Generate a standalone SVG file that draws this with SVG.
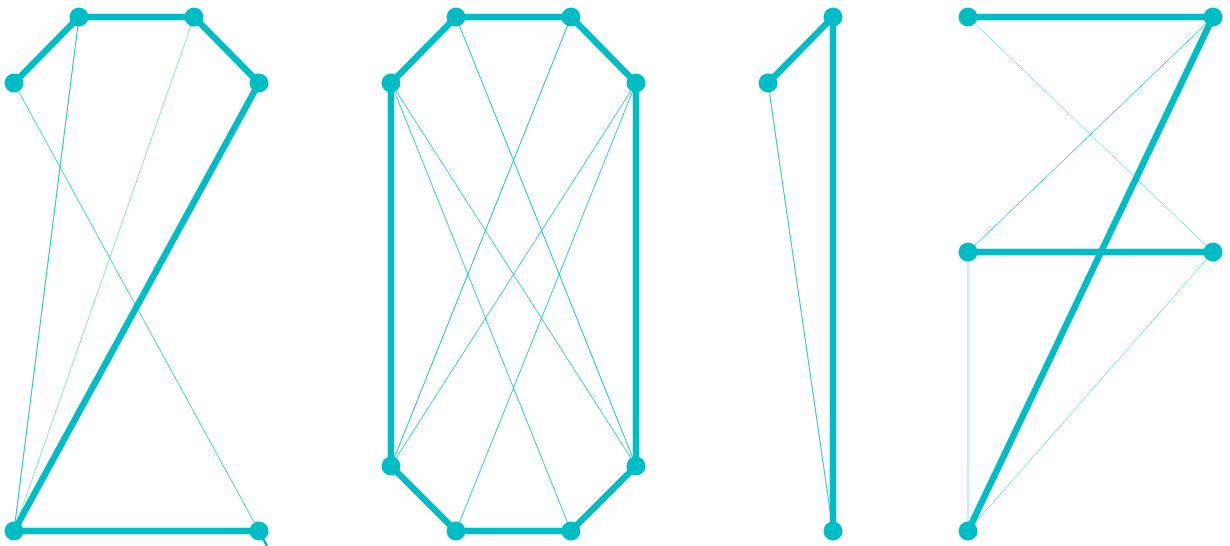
<svg xmlns="http://www.w3.org/2000/svg" width="1230" height="546" viewBox="0 0 1230 546">
<style>
.thick{stroke:#00bcc5;stroke-width:6.5;fill:none;stroke-linecap:round;stroke-linejoin:round}
.thin{stroke:#00bcc5;stroke-width:1;fill:none}
.n{fill:#00bcc5}
</style>
<rect width="1230" height="546" fill="#fff"/>
<g id="connectors">
<line class="thin" x1="79" y1="17" x2="14" y2="531" stroke-opacity="0.9"/>
<line class="thin" x1="194" y1="17" x2="14" y2="531" stroke-opacity="0.45"/>
<line class="thin" x1="14" y1="83" x2="259" y2="531" stroke-opacity="0.75"/>
<polyline class="thick" points="14,83 79,17 194,17 259,83 14,531 259,531"/>
<line x1="261" y1="535" x2="267" y2="546" stroke="#00bcc5" stroke-width="2.5"/>
<line class="thin" x1="456" y1="17" x2="636" y2="466" stroke-opacity="0.9"/>
<line class="thin" x1="571" y1="17" x2="391" y2="466" stroke-opacity="0.9"/>
<line class="thin" x1="391" y1="83" x2="571" y2="531" stroke-opacity="0.8"/>
<line class="thin" x1="391" y1="83" x2="636" y2="466" stroke-opacity="0.8"/>
<line class="thin" x1="636" y1="83" x2="456" y2="531" stroke-opacity="0.8"/>
<line class="thin" x1="636" y1="83" x2="391" y2="466" stroke-opacity="0.8"/>
<polygon class="thick" points="391,83 456,17 571,17 636,83 636,466 571,531 456,531 391,466"/>
<line class="thin" x1="768" y1="83" x2="833" y2="531" stroke-opacity="0.85"/>
<polyline class="thick" points="768,83 833,17 833,531"/>
<line class="thin" x1="968" y1="17" x2="1213" y2="252" stroke-opacity="0.5"/>
<line class="thin" x1="1213" y1="17" x2="968" y2="252" stroke-opacity="0.8"/>
<line class="thin" x1="968" y1="252" x2="968" y2="531" stroke-opacity="0.45"/>
<line class="thin" x1="1213" y1="252" x2="968" y2="531" stroke-opacity="0.5"/>
<polyline class="thick" points="968,17 1213,17 968,531"/>
<line class="thick" x1="968" y1="252" x2="1213" y2="252"/>
</g>
<g id="digit2">
<circle id="n2a" class="n" cx="79" cy="17" r="9.5"/>
<circle id="n2b" class="n" cx="194" cy="17" r="9.5"/>
<circle id="n2c" class="n" cx="14" cy="83" r="9.5"/>
<circle id="n2d" class="n" cx="259" cy="83" r="9.5"/>
<circle id="n2e" class="n" cx="14" cy="531" r="9.5"/>
<circle id="n2f" class="n" cx="259" cy="531" r="9.5"/>
</g>
<g id="digit0">
<circle id="n0a" class="n" cx="456" cy="17" r="9.5"/>
<circle id="n0b" class="n" cx="571" cy="17" r="9.5"/>
<circle id="n0c" class="n" cx="391" cy="83" r="9.5"/>
<circle id="n0d" class="n" cx="636" cy="83" r="9.5"/>
<circle id="n0e" class="n" cx="391" cy="466" r="9.5"/>
<circle id="n0f" class="n" cx="636" cy="466" r="9.5"/>
<circle id="n0g" class="n" cx="456" cy="531" r="9.5"/>
<circle id="n0h" class="n" cx="571" cy="531" r="9.5"/>
</g>
<g id="digit1">
<circle id="n1a" class="n" cx="768" cy="83" r="9.5"/>
<circle id="n1b" class="n" cx="833" cy="17" r="9.5"/>
<circle id="n1c" class="n" cx="833" cy="531" r="9.5"/>
</g>
<g id="digit7">
<circle id="n7a" class="n" cx="968" cy="17" r="9.5"/>
<circle id="n7b" class="n" cx="1213" cy="17" r="9.5"/>
<circle id="n7c" class="n" cx="968" cy="252" r="9.5"/>
<circle id="n7d" class="n" cx="1213" cy="252" r="9.5"/>
<circle id="n7e" class="n" cx="968" cy="531" r="9.5"/>
</g>
</svg>
